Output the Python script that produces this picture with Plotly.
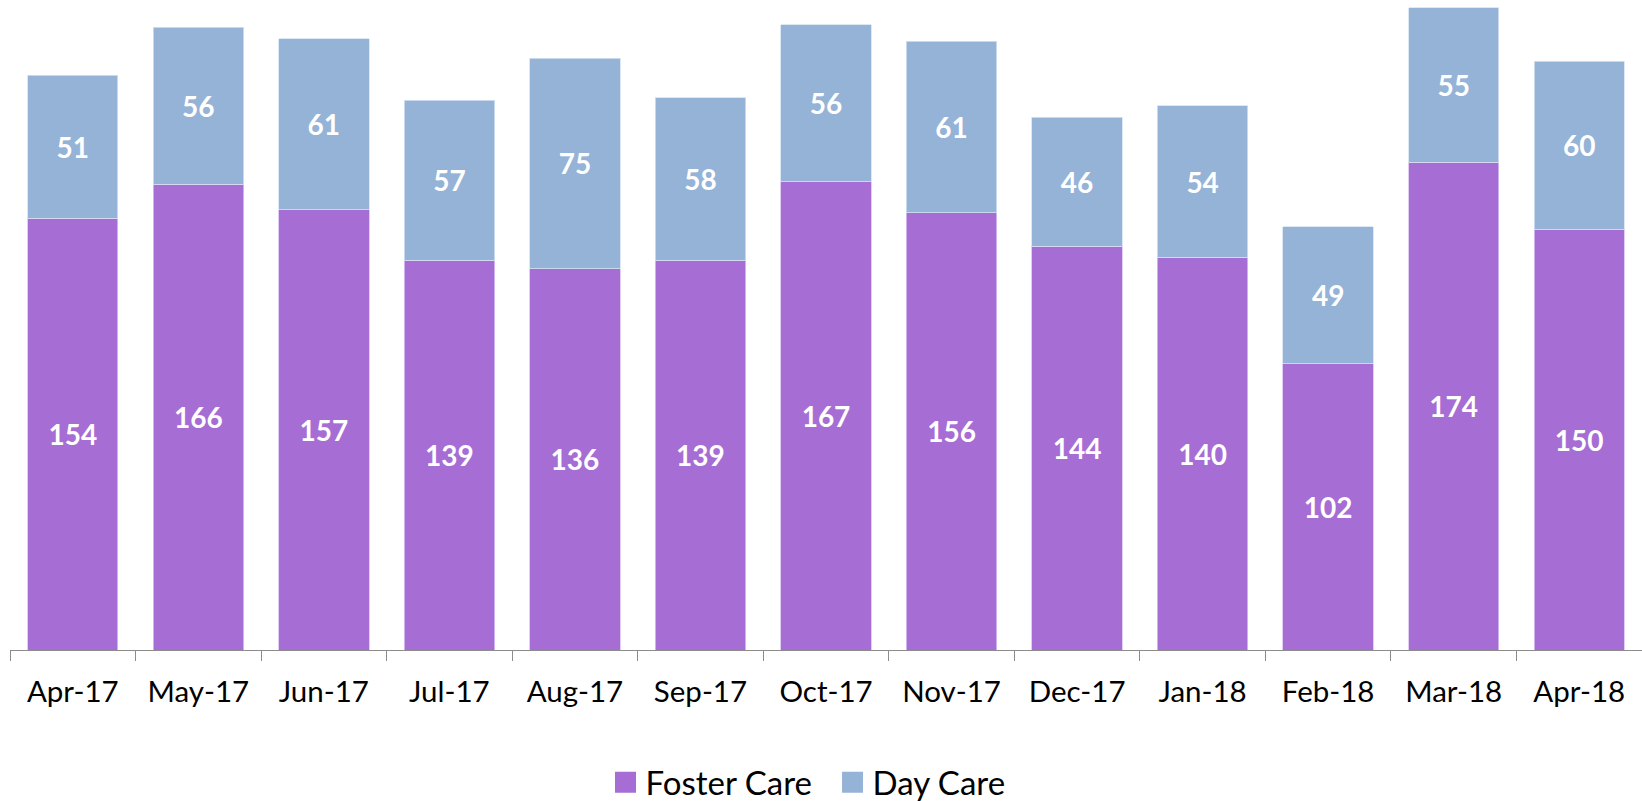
import plotly.graph_objects as go

months = ["Apr-17", "May-17", "Jun-17", "Jul-17", "Aug-17", "Sep-17", "Oct-17",
          "Nov-17", "Dec-17", "Jan-18", "Feb-18", "Mar-18", "Apr-18"]
foster_care = [154, 166, 157, 139, 136, 139, 167, 156, 144, 140, 102, 174, 150]
day_care = [51, 56, 61, 57, 75, 58, 56, 61, 46, 54, 49, 55, 60]
series_names = ["Foster Care", "Day Care"]

FONT = "Lato"
PURPLE = "#A66DD4"
BLUE = "#95B3D7"

fig = go.Figure()
for name, vals, col, edge in [(series_names[0], foster_care, PURPLE, "#D9C2F0"),
                              (series_names[1], day_care, BLUE, "#D5E2F2")]:
    fig.add_trace(go.Bar(
        name=name, x=months, y=vals, showlegend=False, legendgroup=name,
        marker=dict(color=col, line=dict(color=edge, width=0.8)),
        text=vals, textposition="inside", insidetextanchor="middle",
        textfont=dict(family=FONT, size=28, color="white", weight="bold"),
        constraintext="none",
    ))
# legend-only entries (larger square swatches)
for name, col in [(series_names[0], PURPLE), (series_names[1], BLUE)]:
    fig.add_trace(go.Scatter(
        name=name, x=[None], y=[None], mode="markers", legendgroup=name,
        marker=dict(symbol="square", size=16, color=col, line=dict(color=col, width=5)),
        hoverinfo="skip",
    ))

fig.update_layout(
    barmode="stack",
    bargap=0.28,
    width=1642, height=801,
    margin=dict(l=10, r=0, t=5, b=151, autoexpand=False),
    paper_bgcolor="white", plot_bgcolor="white",
    font=dict(family=FONT, color="black"),
    showlegend=True,
    legend=dict(
        orientation="h", x=0.504, xanchor="center", y=-0.205, yanchor="middle",
        font=dict(family=FONT, size=33, color="black"),
        traceorder="normal", itemwidth=30, entrywidth=182,
    ),
)
fig.update_xaxes(
    automargin=False,
    showline=True, linecolor="#8C8C8C", linewidth=1.3,
    ticks="outside", tickson="boundaries", ticklen=10, tickcolor="#8C8C8C", tickwidth=1.3,
    tickfont=dict(family=FONT, size=29.5, color="black"),
    ticklabelstandoff=15,
    showgrid=False,
)
fig.update_yaxes(range=[0, 230], visible=False, showgrid=False, automargin=False)

fig.write_html(
    "out.html",
    config={"displayModeBar": False},
    post_script="document.body.style.margin='0';document.body.style.overflow='hidden';",
)
